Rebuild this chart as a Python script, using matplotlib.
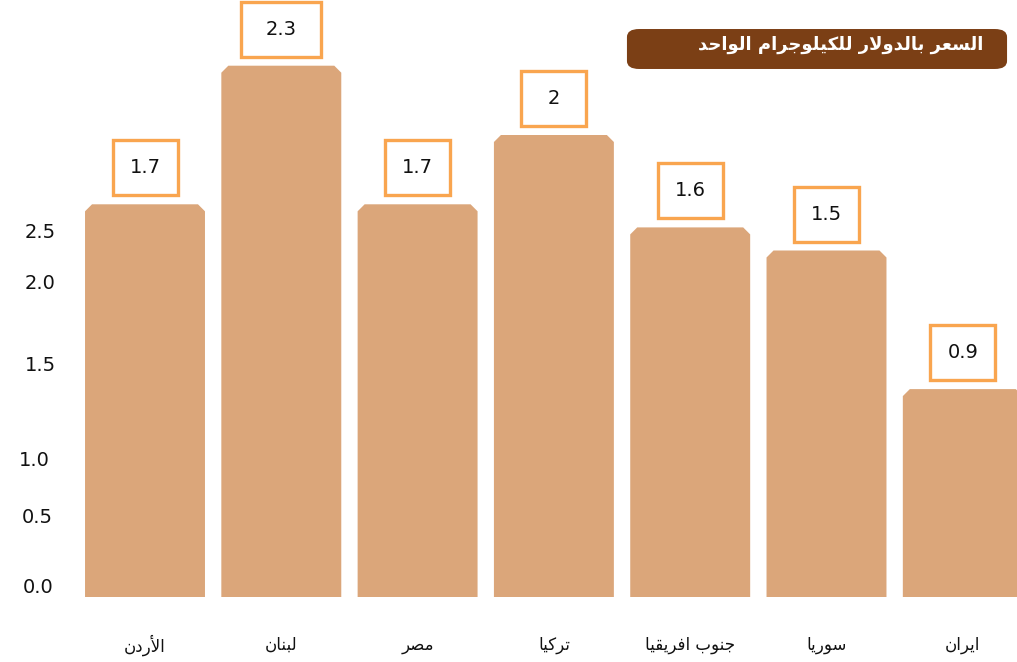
import matplotlib
matplotlib.use("Agg")
import matplotlib.pyplot as plt
from matplotlib.patches import Polygon, Rectangle, FancyBboxPatch

# ---- data ----
countries = ["الأردن", "لبنان", "مصر", "تركيا", "جنوب افريقيا", "سوريا", "ايران"]
prices = [1.7, 2.3, 1.7, 2.0, 1.6, 1.5, 0.9]
price_labels = ["1.7", "2.3", "1.7", "2", "1.6", "1.5", "0.9"]
ytick_labels = ["0.0", "0.5", "1.0", "1.5", "2.0", "2.5"]
title = "السعر بالدولار للكيلوجرام الواحد"

# matplotlib has no Arabic shaping, so pick the joined glyph forms by hand
# (isolated, final, initial, medial)
FORMS = {
    "ا": ("\uFE8D", "\uFE8E", None, None),
    "أ": ("\uFE83", "\uFE84", None, None),
    "ب": ("\uFE8F", "\uFE90", "\uFE91", "\uFE92"),
    "ت": ("\uFE95", "\uFE96", "\uFE97", "\uFE98"),
    "ج": ("\uFE9D", "\uFE9E", "\uFE9F", "\uFEA0"),
    "ح": ("\uFEA1", "\uFEA2", "\uFEA3", "\uFEA4"),
    "د": ("\uFEA9", "\uFEAA", None, None),
    "ر": ("\uFEAD", "\uFEAE", None, None),
    "س": ("\uFEB1", "\uFEB2", "\uFEB3", "\uFEB4"),
    "ص": ("\uFEB9", "\uFEBA", "\uFEBB", "\uFEBC"),
    "ع": ("\uFEC9", "\uFECA", "\uFECB", "\uFECC"),
    "ف": ("\uFED1", "\uFED2", "\uFED3", "\uFED4"),
    "ق": ("\uFED5", "\uFED6", "\uFED7", "\uFED8"),
    "ك": ("\uFED9", "\uFEDA", "\uFEDB", "\uFEDC"),
    "ل": ("\uFEDD", "\uFEDE", "\uFEDF", "\uFEE0"),
    "م": ("\uFEE1", "\uFEE2", "\uFEE3", "\uFEE4"),
    "ن": ("\uFEE5", "\uFEE6", "\uFEE7", "\uFEE8"),
    "و": ("\uFEED", "\uFEEE", None, None),
    "ي": ("\uFEF1", "\uFEF2", "\uFEF3", "\uFEF4"),
    "لا": ("\uFEFB", "\uFEFC", None, None),
    "لأ": ("\uFEF7", "\uFEF8", None, None),
}


def shape(text):
    chars = []
    i = 0
    while i < len(text):
        if text[i] == "ل" and i + 1 < len(text) and text[i + 1] in "اأ":
            chars.append(text[i:i + 2])
            i += 2
        else:
            chars.append(text[i])
            i += 1
    out = []
    for k, c in enumerate(chars):
        if c not in FORMS:
            out.append(c)
            continue
        prev = chars[k - 1] if k > 0 else None
        nxt = chars[k + 1] if k + 1 < len(chars) else None
        jp = prev in FORMS and FORMS[prev][2] is not None
        jn = FORMS[c][2] is not None and nxt in FORMS
        iso, fin, ini, med = FORMS[c]
        if jp and jn:
            out.append(med)
        elif jp:
            out.append(fin)
        elif jn:
            out.append(ini)
        else:
            out.append(iso)
    return "".join(reversed(out))


plt.rcParams["font.family"] = ["DejaVu Sans"]

W, H = 1017, 662
fig = plt.figure(figsize=(W / 100, H / 100), dpi=100)
ax = fig.add_axes([0, (H - 597) / H, 1, 597 / H])
px_y = 231.0     # pixels per unit
px_x = 136.3     # pixels per category
ax.set_ylim(0, 597 / px_y)
ax.set_xlim(-145 / px_x, (W - 145) / px_x)
ax.axis("off")

x = list(range(len(prices)))
bars = ax.bar(x, prices, width=0.88, color="#DBA67A")

# chamfer the top corners of each bar
cx, cy = 7 / px_x, 7 / px_y
for b in bars:
    x0, y0, w, h = b.get_x(), b.get_y(), b.get_width(), b.get_height()
    pts = [(x0, y0), (x0, y0 + h - cy), (x0 + cx, y0 + h),
           (x0 + w - cx, y0 + h), (x0 + w, y0 + h - cy), (x0 + w, y0)]
    ax.add_patch(Polygon(pts, closed=True, facecolor="#DBA67A", edgecolor="none"))
    b.set_visible(False)

# value labels in orange boxes
box_w = [65, 80, 65, 65, 65, 65, 65]
bh = 55 / px_y
for b, lab, bw in zip(bars, price_labels, box_w):
    xc = b.get_x() + b.get_width() / 2
    y0 = b.get_height() + 9 / px_y
    w = bw / px_x
    ax.add_patch(Rectangle((xc - w / 2, y0), w, bh, facecolor="white",
                           edgecolor="#F9A54F", linewidth=2.4, clip_on=False))
    ax.text(xc, y0 + bh / 2, lab, ha="center", va="center", fontsize=14, color="#111111")

# category labels
for xi, name in zip(x, countries):
    ax.text(xi, -48 / px_y, shape(name), ha="center", va="center", fontsize=12,
            color="#111111", clip_on=False)

# the y labels sit at uneven heights in the original
ytick_pos = [0.039, 0.346, 0.593, 1.004, 1.359, 1.576]
ytick_x = [53, 53, 50, 56, 56, 56]
for lab, yp, xp in zip(ytick_labels, ytick_pos, ytick_x):
    ax.text(xp / W, yp, lab, transform=ax.get_yaxis_transform(), ha="right",
            va="center", fontsize=14, color="#111111")

# title box
fig.patches.append(FancyBboxPatch((630 / W, (H - 67) / H), 374 / W, 36 / H,
                                  boxstyle="round,pad=0.003,rounding_size=0.012",
                                  transform=fig.transFigure, facecolor="#7B3F15",
                                  edgecolor="none"))
fig.text(983 / W, (H - 45) / H, shape(title), ha="right", va="center", fontsize=13,
         fontweight="bold", color="white")

fig.savefig("out.png", dpi=100)
